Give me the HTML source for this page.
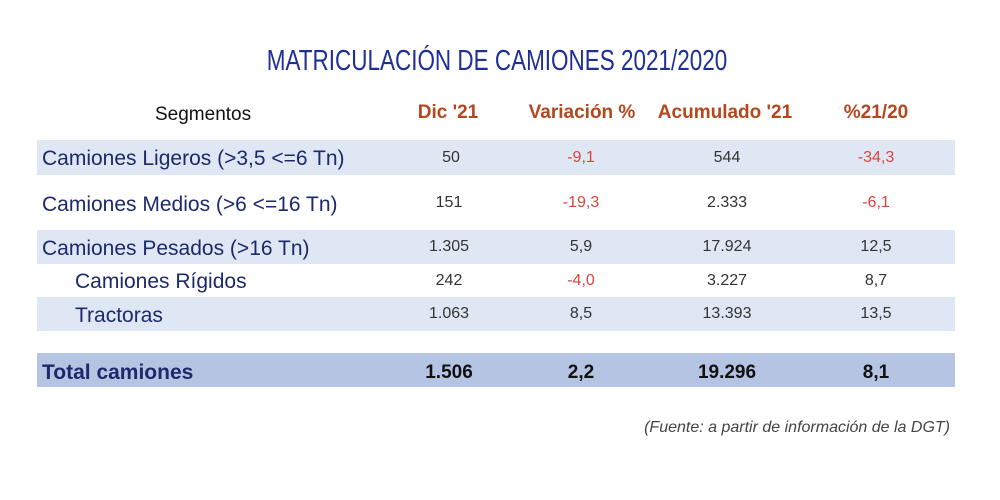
<!DOCTYPE html>
<html><head><meta charset="utf-8"><style>
body{margin:0;width:1000px;height:500px;background:#fff;position:relative;overflow:hidden;font-family:"Liberation Sans",sans-serif}
.a{position:absolute;white-space:nowrap}
.band{position:absolute;left:37px;width:918px;background:#dfe7f4}
.t{font-size:21px;color:#1c2a6b;left:42px}
.n{font-size:16px;color:#333;transform:translateX(-50%)}
.r{color:#d8453b}
.h{font-size:19px;color:#b5461e;font-weight:bold;transform:translateX(-50%);top:102px}
.b{font-weight:bold;color:#111;font-size:19px}
</style></head><body>
<div class="a" style="left:497px;top:45px;font-size:29px;color:#1f2f95;transform:translateX(-50%) scaleX(0.775);">MATRICULACIÓN DE CAMIONES 2021/2020</div>
<div class="a" style="left:155px;top:104px;font-size:19px;color:#111">Segmentos</div>
<div class="a h" style="left:448px">Dic '21</div>
<div class="a h" style="left:582px">Variación %</div>
<div class="a h" style="left:725px">Acumulado '21</div>
<div class="a h" style="left:876px">%21/20</div>

<div class="band" style="top:140px;height:35px"></div>
<div class="band" style="top:230px;height:34px"></div>
<div class="band" style="top:297px;height:34px"></div>
<div class="band" style="top:353px;height:34px;background:#b5c4e2"></div>

<div class="a t" style="top:147px">Camiones Ligeros (&gt;3,5 &lt;=6 Tn)</div>
<div class="a t" style="top:193px">Camiones Medios (&gt;6 &lt;=16 Tn)</div>
<div class="a t" style="top:237px">Camiones Pesados (&gt;16 Tn)</div>
<div class="a t" style="top:270px;left:75px">Camiones Rígidos</div>
<div class="a t" style="top:304px;left:75px">Tractoras</div>
<div class="a t" style="top:361px;font-weight:bold">Total camiones</div>

<div class="a n" style="left:451px;top:149px">50</div>
<div class="a n r" style="left:581px;top:149px">-9,1</div>
<div class="a n" style="left:727px;top:149px">544</div>
<div class="a n r" style="left:876px;top:149px">-34,3</div>

<div class="a n" style="left:449px;top:194px">151</div>
<div class="a n r" style="left:581px;top:194px">-19,3</div>
<div class="a n" style="left:727px;top:194px">2.333</div>
<div class="a n r" style="left:876px;top:194px">-6,1</div>

<div class="a n" style="left:449px;top:238px">1.305</div>
<div class="a n" style="left:581px;top:238px">5,9</div>
<div class="a n" style="left:727px;top:238px">17.924</div>
<div class="a n" style="left:876px;top:238px">12,5</div>

<div class="a n" style="left:449px;top:272px">242</div>
<div class="a n r" style="left:581px;top:272px">-4,0</div>
<div class="a n" style="left:727px;top:272px">3.227</div>
<div class="a n" style="left:876px;top:272px">8,7</div>

<div class="a n" style="left:449px;top:305px">1.063</div>
<div class="a n" style="left:581px;top:305px">8,5</div>
<div class="a n" style="left:727px;top:305px">13.393</div>
<div class="a n" style="left:876px;top:305px">13,5</div>

<div class="a n b" style="left:449px;top:362px">1.506</div>
<div class="a n b" style="left:581px;top:362px">2,2</div>
<div class="a n b" style="left:727px;top:362px">19.296</div>
<div class="a n b" style="left:876px;top:362px">8,1</div>

<div class="a" style="right:50px;top:419px;font-size:16px;font-style:italic;color:#444">(Fuente: a partir de información de la DGT)</div>
</body></html>
